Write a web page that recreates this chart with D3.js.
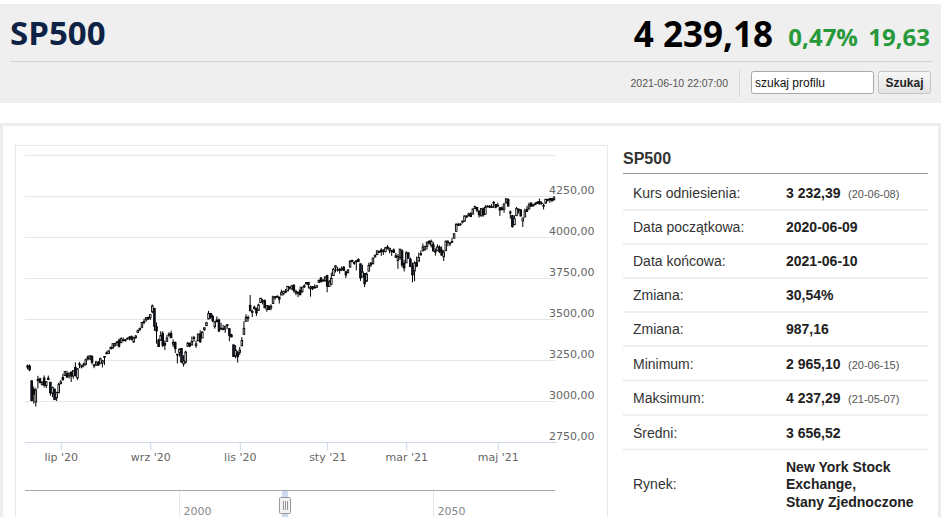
<!DOCTYPE html>
<html>
<head>
<meta charset="utf-8">
<script src="https://d3js.org/d3.v7.min.js"></script>
<style>
  body { margin: 0; background: #fff; overflow: hidden; }
  svg { display: block; }
</style>
</head>
<body>
<svg id="page" width="948" height="517"></svg>
<script>
// trading days, one row per month
var monthKeys = ["2020-06","2020-07","2020-08","2020-09","2020-10","2020-11","2020-12",
                 "2021-01","2021-02","2021-03","2021-04","2021-05","2021-06"];
var monthDays = [
  [9,10,11,12,15,16,17,18,19,22,23,24,25,26,29,30],
  [1,2,6,7,8,9,10,13,14,15,16,17,20,21,22,23,24,27,28,29,30,31],
  [3,4,5,6,7,10,11,12,13,14,17,18,19,20,21,24,25,26,27,28,31],
  [1,2,3,4,8,9,10,11,14,15,16,17,18,21,22,23,24,25,28,29,30],
  [1,2,5,6,7,8,9,12,13,14,15,16,19,20,21,22,23,26,27,28,29,30],
  [2,3,4,5,6,9,10,11,12,13,16,17,18,19,20,23,24,25,27,30],
  [1,2,3,4,7,8,9,10,11,14,15,16,17,18,21,22,23,24,28,29,30,31],
  [4,5,6,7,8,11,12,13,14,15,19,20,21,22,25,26,27,28,29],
  [1,2,3,4,5,8,9,10,11,12,16,17,18,19,22,23,24,25,26],
  [1,2,3,4,5,8,9,10,11,12,15,16,17,18,19,22,23,24,25,26,29,30,31],
  [1,5,6,7,8,9,12,13,14,15,16,19,20,21,22,23,26,27,28,29,30],
  [3,4,5,6,7,10,11,12,13,14,17,18,19,20,21,24,25,26,27,28],
  [1,2,3,4,7,8,9,10]
];

var opens = [
  3213.32,3213.42,3123.53,3071.04,2993.76,3131.00,3136.13,3101.64,3140.29,3094.42,3138.70,3114.40,3046.60,3073.20,3018.59,3050.20,
  3105.92,3143.64,3155.29,3166.44,3153.07,3176.17,3152.47,3205.08,3141.11,3225.98,3208.36,3224.21,3224.29,3268.52,3254.86,3271.64,3218.58,3219.84,3234.27,3227.22,3231.76,3270.45,
  3288.26,3289.92,3317.37,3323.17,3340.05,3356.04,3370.34,3355.46,3372.95,3368.66,3380.86,3387.04,3392.51,3360.48,3386.01,3418.09,3435.95,3449.97,3485.14,3494.69,3509.73,
  3507.44,3543.76,3564.74,3453.60,3371.88,3369.82,3412.56,3352.70,3363.56,3407.73,3411.23,3346.86,3357.38,3285.57,3295.75,3320.11,3226.14,3236.66,3333.90,3350.92,3341.21,
  3385.87,3338.94,3367.27,3408.74,3384.56,3434.28,3459.67,3500.02,3534.01,3515.47,3453.72,3493.50,3493.66,3439.38,3439.91,3438.50,3464.90,3441.42,3403.15,3342.48,3277.17,3293.59,
  3296.20,3336.25,3406.46,3485.74,3508.34,3583.04,3543.26,3563.22,3562.67,3552.57,3600.16,3610.31,3612.09,3559.41,3579.31,3566.82,3594.52,3635.50,3638.55,3634.18,
  3645.87,3653.78,3668.28,3670.94,3694.73,3683.05,3705.98,3659.13,3656.08,3675.27,3666.41,3696.25,3713.65,3722.39,3684.28,3698.08,3693.42,3694.03,3723.03,3750.01,3736.19,3733.27,
  3764.61,3698.02,3712.20,3764.71,3815.05,3803.14,3801.62,3802.23,3814.98,3788.73,3781.88,3816.22,3857.46,3844.24,3851.68,3862.96,3836.83,3755.75,3778.05,
  3731.17,3791.84,3840.27,3836.66,3878.30,3892.59,3910.49,3920.78,3916.40,3911.65,3939.61,3918.50,3915.86,3921.16,3885.55,3857.07,3873.71,3915.80,3839.66,
  3842.51,3903.64,3863.99,3818.53,3793.58,3844.39,3851.93,3891.99,3915.54,3924.52,3942.96,3973.59,3949.57,3953.50,3913.14,3916.48,3937.60,3919.93,3879.34,3917.12,3969.31,3963.34,3967.25,
  3992.78,4034.44,4075.57,4074.29,4089.95,4096.11,4124.71,4130.10,4141.58,4139.76,4174.14,4179.80,4159.18,4128.42,4170.46,4138.78,4185.03,4188.25,4185.14,4206.14,4198.10,
  4191.98,4179.04,4177.06,4169.14,4210.34,4228.29,4150.34,4130.55,4074.99,4129.58,4169.92,4165.94,4098.45,4121.97,4168.61,4170.16,4205.94,4191.59,4201.94,4210.77,
  4216.52,4206.82,4191.43,4206.05,4229.34,4233.81,4232.99,4228.56
];
var highs = [
  3222.71,3223.27,3123.53,3088.42,3079.76,3153.45,3141.16,3120.00,3155.53,3120.92,3154.90,3115.01,3086.25,3073.73,3053.89,3111.51,
  3128.44,3165.81,3182.59,3184.15,3171.80,3179.78,3186.82,3235.32,3200.95,3238.28,3220.39,3233.52,3258.61,3277.29,3279.32,3279.99,3227.26,3241.43,3243.72,3264.74,3250.92,3272.17,
  3302.73,3306.84,3330.77,3351.03,3352.54,3363.29,3381.01,3387.89,3387.24,3378.51,3387.59,3395.06,3399.54,3390.80,3399.96,3432.09,3444.21,3481.07,3501.38,3509.23,3514.77,
  3528.03,3588.11,3564.85,3479.15,3379.97,3424.77,3425.55,3368.95,3402.93,3419.48,3428.92,3375.17,3362.27,3285.57,3320.31,3323.35,3278.70,3306.88,3360.74,3357.92,3393.56,
  3397.18,3369.10,3409.57,3431.56,3426.26,3447.28,3482.34,3549.85,3534.01,3527.94,3489.08,3515.76,3502.42,3476.93,3464.86,3460.53,3466.46,3441.42,3409.51,3342.48,3341.05,3304.93,
  3330.14,3389.49,3486.25,3529.05,3521.58,3645.99,3557.22,3581.16,3569.02,3593.66,3628.51,3623.11,3619.09,3585.22,3581.23,3589.81,3642.31,3635.50,3644.31,3634.18,
  3678.45,3670.96,3682.73,3699.20,3697.41,3708.45,3712.39,3678.49,3665.91,3697.61,3695.29,3711.27,3725.12,3726.70,3702.90,3698.26,3711.24,3703.82,3740.51,3756.12,3744.63,3760.20,
  3769.99,3737.83,3783.04,3811.55,3826.69,3817.86,3810.78,3820.96,3823.60,3788.73,3804.53,3859.75,3861.45,3852.31,3859.23,3870.90,3836.83,3830.50,3778.05,
  3784.32,3843.09,3847.51,3872.42,3894.56,3915.77,3918.35,3931.50,3925.99,3937.23,3950.43,3933.61,3921.98,3930.41,3902.92,3895.98,3928.65,3925.02,3861.08,
  3914.50,3906.41,3874.47,3843.67,3851.69,3881.06,3903.76,3917.35,3960.27,3944.99,3970.08,3981.04,3983.87,3969.62,3930.12,3955.31,3949.13,3942.08,3919.54,3978.19,3981.83,3968.01,3994.41,
  4020.63,4083.42,4086.23,4083.13,4098.19,4129.48,4131.76,4148.00,4151.69,4173.49,4191.31,4180.81,4159.18,4175.02,4179.57,4194.17,4194.19,4193.35,4201.53,4218.78,4198.10,
  4209.39,4179.04,4187.72,4202.70,4238.04,4236.39,4162.04,4134.73,4131.58,4183.13,4171.92,4169.15,4116.93,4172.80,4188.72,4209.52,4213.42,4202.61,4213.38,4218.36,
  4234.12,4217.37,4204.39,4233.45,4232.34,4236.74,4237.09,4249.74
];
var lows = [
  3193.11,3181.49,2999.49,2984.47,2965.66,3076.06,3108.03,3093.51,3083.11,3079.39,3127.12,3032.13,3024.01,3004.63,2999.74,3047.83,
  3101.17,3124.52,3155.29,3142.93,3136.53,3115.70,3136.22,3149.43,3127.66,3200.76,3198.59,3205.65,3215.16,3247.77,3253.10,3222.66,3200.05,3214.25,3216.17,3227.22,3204.13,3220.26,
  3284.53,3286.37,3317.37,3318.14,3328.72,3335.44,3326.44,3355.46,3363.35,3361.64,3379.22,3370.15,3369.66,3354.69,3379.31,3413.13,3425.84,3444.15,3468.35,3484.32,3493.25,
  3494.60,3535.23,3427.41,3349.63,3329.27,3366.84,3329.25,3310.47,3363.56,3389.25,3384.45,3328.82,3292.40,3229.10,3270.95,3232.57,3209.45,3228.44,3332.91,3327.54,3340.47,
  3361.39,3323.69,3367.27,3354.54,3384.56,3428.15,3458.07,3499.61,3500.86,3480.55,3440.89,3480.45,3419.93,3435.65,3433.06,3415.34,3440.45,3364.86,3388.71,3268.89,3259.82,3233.94,
  3279.74,3336.25,3405.17,3485.74,3484.34,3547.48,3511.91,3557.00,3518.58,3552.57,3600.16,3588.68,3567.33,3543.84,3556.85,3552.77,3594.52,3617.76,3629.33,3594.39,
  3645.87,3644.84,3657.17,3670.94,3678.88,3678.83,3660.54,3645.18,3633.40,3645.84,3659.62,3688.57,3710.87,3685.84,3636.48,3676.16,3689.28,3689.32,3723.03,3723.31,3730.21,3726.88,
  3662.71,3695.07,3705.34,3764.71,3783.60,3789.02,3776.51,3791.50,3792.86,3749.62,3780.37,3816.22,3845.05,3830.41,3797.16,3847.78,3732.48,3755.75,3694.12,
  3725.62,3791.84,3816.68,3836.66,3874.93,3892.59,3902.64,3884.94,3890.39,3905.78,3923.85,3900.43,3885.03,3903.07,3874.71,3805.59,3859.60,3814.04,3789.54,
  3842.51,3868.57,3818.86,3723.34,3730.19,3819.25,3851.93,3885.73,3915.54,3915.21,3923.54,3953.44,3935.74,3910.86,3886.75,3914.16,3901.57,3889.07,3853.50,3917.12,3943.25,3944.35,3966.98,
  3992.78,4034.44,4068.14,4068.31,4082.54,4095.51,4114.82,4124.43,4120.87,4139.76,4170.75,4150.47,4118.38,4126.35,4123.69,4138.78,4182.36,4176.22,4181.78,4176.81,4174.85,
  4188.03,4128.59,4160.94,4147.33,4201.64,4188.13,4111.53,4056.88,4074.99,4129.58,4142.69,4125.99,4061.41,4121.97,4151.72,4170.16,4182.52,4184.11,4197.78,4203.57,
  4197.59,4198.27,4167.93,4206.05,4215.66,4208.41,4218.74,4220.34
];
var closes = [
  3207.18,3190.14,3002.10,3041.31,3066.59,3124.74,3113.49,3115.34,3097.74,3117.86,3131.29,3050.33,3083.76,3009.05,3053.24,3100.29,
  3115.86,3130.01,3179.72,3145.32,3169.94,3152.05,3185.04,3155.22,3197.52,3226.56,3215.57,3224.73,3251.84,3257.30,3276.02,3235.66,3215.63,3239.41,3218.44,3258.44,3246.22,3271.12,
  3294.61,3306.51,3327.77,3349.16,3351.28,3360.47,3333.69,3380.35,3373.43,3372.85,3381.99,3389.78,3374.85,3385.51,3397.16,3431.28,3443.62,3478.73,3484.55,3508.01,3500.31,
  3526.65,3580.84,3455.06,3426.96,3331.84,3398.96,3339.19,3340.97,3383.54,3401.20,3385.49,3357.01,3319.47,3281.06,3315.57,3236.92,3246.59,3298.46,3351.60,3335.47,3363.00,
  3380.80,3348.42,3408.60,3360.97,3419.44,3446.83,3477.14,3534.22,3511.93,3488.67,3483.34,3483.81,3426.92,3443.12,3435.56,3453.49,3465.39,3400.97,3390.68,3271.03,3310.11,3269.96,
  3310.24,3369.16,3443.44,3510.45,3509.44,3550.50,3545.53,3572.66,3537.01,3585.15,3626.91,3609.53,3567.79,3581.87,3557.54,3577.59,3635.41,3629.65,3638.35,3621.63,
  3662.45,3669.01,3666.72,3699.12,3691.96,3702.25,3672.82,3668.10,3663.46,3647.49,3694.62,3701.17,3722.48,3709.41,3694.92,3687.26,3690.01,3703.06,3735.36,3727.04,3732.04,3756.07,
  3700.65,3726.86,3748.14,3803.79,3824.68,3799.61,3801.19,3809.84,3795.54,3768.25,3798.91,3851.85,3853.07,3841.47,3855.36,3849.62,3750.77,3787.38,3714.24,
  3773.86,3826.31,3830.17,3871.74,3886.83,3915.59,3911.23,3909.88,3916.38,3934.83,3932.59,3931.33,3913.97,3906.71,3876.50,3881.37,3925.43,3829.34,3811.15,
  3901.82,3870.29,3819.72,3768.47,3841.94,3821.35,3875.44,3898.81,3939.34,3943.34,3968.94,3962.71,3974.12,3915.46,3913.10,3940.59,3910.52,3889.14,3909.52,3974.54,3971.09,3958.55,3972.89,
  4019.87,4077.91,4073.94,4079.95,4097.17,4128.80,4127.99,4141.59,4124.66,4170.42,4185.47,4163.26,4134.94,4173.42,4134.98,4180.17,4187.62,4186.72,4183.18,4211.47,4181.17,
  4192.66,4164.66,4167.59,4201.62,4232.60,4188.43,4152.10,4063.04,4112.50,4173.85,4163.29,4127.83,4115.68,4159.12,4155.86,4197.05,4188.13,4195.99,4200.88,4204.11,
  4202.04,4208.12,4192.85,4229.89,4226.52,4227.26,4219.55,4239.18
];

// axis ticks
var yTicks = [2750, 3000, 3250, 3500, 3750, 4000, 4250, 4500];
var xTickDates = ["2020-07-01","2020-09-01","2020-11-02","2021-01-04","2021-03-01","2021-05-03"];
var xTickLabels = ["lip '20","wrz '20","lis '20","sty '21","mar '21","maj '21"];
var navTicks = [2000, 2050];

// header + info table
var quote = {name: "SP500", last: "4 239,18", pct: "0,47%", chg: "19,63", time: "2021-06-10 22:07:00"};
var rowLabels = ["Kurs odniesienia:","Data początkowa:","Data końcowa:","Zmiana:","Zmiana:","Minimum:","Maksimum:","Średni:","Rynek:"];
var rowValues = ["3 232,39","2020-06-09","2021-06-10","30,54%","987,16","2 965,10","4 237,29","3 656,52","New York Stock|Exchange,|Stany Zjednoczone"];
var rowNotes = ["(20-06-08)","","","","","(20-06-15)","(21-05-07)","",""];

var svg = d3.select("#page");
var SANS = "'Liberation Sans', Arial, sans-serif";
var HEAD = "'Open Sans', 'Noto Sans', sans-serif";
var AXIS = "'DejaVu Sans', Verdana, sans-serif";

/* Header bar */
svg.append("rect").attr("x",0).attr("y",4).attr("width",941).attr("height",99).attr("fill","#efefef");
svg.append("text").attr("x",10).attr("y",45).text(quote.name)
  .attr("font-family",HEAD).attr("font-weight",700).attr("font-size",33).attr("fill","#0d2244");
svg.append("text").attr("x",930).attr("y",46).attr("text-anchor","end").text(quote.chg)
  .attr("font-family",HEAD).attr("font-weight",700).attr("font-size",24).attr("fill","#27993a");
svg.append("text").attr("x",858).attr("y",46).attr("text-anchor","end").text(quote.pct)
  .attr("font-family",HEAD).attr("font-weight",700).attr("font-size",24).attr("fill","#27993a");
svg.append("text").attr("x",773).attr("y",46.5).attr("text-anchor","end").text(quote.last)
  .attr("font-family",HEAD).attr("font-weight",700).attr("font-size",35).attr("fill","#000");
svg.append("line").attr("x1",10).attr("x2",933).attr("y1",61.5).attr("y2",61.5).attr("stroke","#d4d4d4");
svg.append("text").attr("x",728).attr("y",87).attr("text-anchor","end").text(quote.time)
  .attr("font-family",SANS).attr("font-size",10.5).attr("fill","#555");
svg.append("line").attr("x1",739.5).attr("x2",739.5).attr("y1",70).attr("y2",97).attr("stroke","#d8d8d8");
// search box
svg.append("rect").attr("x",751.5).attr("y",71.5).attr("width",122).attr("height",22).attr("rx",2)
  .attr("fill","#fff").attr("stroke","#a8a8a8");
svg.append("text").attr("x",755).attr("y",87).text("szukaj profilu")
  .attr("font-family",SANS).attr("font-size",12).attr("fill","#111");
var grad = svg.append("defs").append("linearGradient").attr("id","btn").attr("x1",0).attr("x2",0).attr("y1",0).attr("y2",1);
grad.append("stop").attr("offset","0").attr("stop-color","#f7f7f7");
grad.append("stop").attr("offset","1").attr("stop-color","#e3e3e3");
svg.append("rect").attr("x",878.5).attr("y",71.5).attr("width",52).attr("height",22).attr("rx",2)
  .attr("fill","url(#btn)").attr("stroke","#c4c4c4");
svg.append("text").attr("x",904.5).attr("y",87).attr("text-anchor","middle").text("Szukaj")
  .attr("font-family",SANS).attr("font-weight",700).attr("font-size",12).attr("fill","#222");

/* Content boxes */
svg.append("rect").attr("x",1.5).attr("y",124.5).attr("width",938).attr("height",420)
  .attr("fill","#fff").attr("stroke","#ededed").attr("stroke-width",3);
svg.append("rect").attr("x",15.5).attr("y",145.5).attr("width",592).attr("height",400)
  .attr("fill","#fff").attr("stroke","#e8e8e8");

/* Candlestick chart */
var dates = [];
monthKeys.forEach(function(m, i){
  monthDays[i].forEach(function(d){ dates.push(m + "-" + (d < 10 ? "0" : "") + d); });
});
var candles = dates.map(function(d, i){
  return {date: d, o: opens[i], h: highs[i], l: lows[i], c: closes[i]};
});

var x = d3.scalePoint().domain(dates).range([27.5, 554]);
var y = d3.scaleLinear().domain([2750, 4500]).range([442, 155]);
var fmt = d3.formatLocale({decimal: ",", thousands: " ", grouping: [3], currency: ["", ""]}).format(".2f");

svg.append("g").selectAll("line").data(yTicks).enter().append("line")
  .attr("x1",25).attr("x2",555)
  .attr("y1",function(d){ return Math.round(y(d)) + 0.5; })
  .attr("y2",function(d){ return Math.round(y(d)) + 0.5; })
  .attr("stroke","#e6e6e6");

var bw = x.step() * 0.75;
var cg = svg.append("g").selectAll("g").data(candles).enter().append("g");
cg.append("line")
  .attr("x1",function(d){ return x(d.date); })
  .attr("x2",function(d){ return x(d.date); })
  .attr("y1",function(d){ return y(d.h); })
  .attr("y2",function(d){ return y(d.l); })
  .attr("stroke","#000").attr("stroke-width",1);
cg.append("rect")
  .attr("x",function(d){ return x(d.date) - bw / 2; })
  .attr("width",bw)
  .attr("y",function(d){ return y(Math.max(d.o, d.c)); })
  .attr("height",function(d){ return Math.max(0.8, Math.abs(y(d.o) - y(d.c))); })
  .attr("fill",function(d){ return d.c >= d.o ? "#fff" : "#0f1c36"; })
  .attr("stroke","#000").attr("stroke-width",0.9);

svg.append("g").selectAll("text").data(yTicks.slice(0, -1)).enter().append("text")
  .attr("x",549).attr("y",function(d){ return y(d) - 2.5; })
  .text(function(d){ return fmt(d); })
  .attr("font-family",AXIS).attr("font-size",11).attr("fill","#666");

// x axis
var xAxis = d3.axisBottom(x).tickValues(xTickDates)
  .tickFormat(function(d, i){ return xTickLabels[i]; })
  .tickSize(8).tickSizeOuter(0);
var xg = svg.append("g").attr("transform","translate(0,442.5)").call(xAxis);
xg.select(".domain").remove();
xg.selectAll(".tick line").attr("stroke","#ccd6eb");
xg.selectAll(".tick text").attr("font-family",AXIS).attr("font-size",11).attr("fill","#666");
svg.append("line").attr("x1",25).attr("x2",557).attr("y1",442.5).attr("y2",442.5).attr("stroke","#ccd6eb");

/* Navigator strip */
var navX = d3.scaleLinear().domain([2000, 2050]).range([179.5, 433.5]);
svg.append("g").selectAll("line").data(navTicks).enter().append("line")
  .attr("x1",function(d){ return navX(d); }).attr("x2",function(d){ return navX(d); })
  .attr("y1",491).attr("y2",517).attr("stroke","#e6e6e6");
svg.append("g").selectAll("text").data(navTicks).enter().append("text")
  .attr("x",function(d){ return navX(d) + 4; }).attr("y",515)
  .text(function(d){ return d; })
  .attr("font-family",AXIS).attr("font-size",11).attr("fill","#888");
svg.append("rect").attr("x",282).attr("y",491).attr("width",6).attr("height",26).attr("fill","#cbdbed");
svg.append("line").attr("x1",25).attr("x2",555).attr("y1",490.5).attr("y2",490.5).attr("stroke","#a6a6a6");
svg.append("rect").attr("x",279.5).attr("y",497.5).attr("width",11).attr("height",16).attr("rx",1)
  .attr("fill","#f2f2f2").attr("stroke","#999");
[283.5, 285.5, 287.5].forEach(function(lx){
  svg.append("line").attr("x1",lx).attr("x2",lx).attr("y1",501).attr("y2",510).attr("stroke","#999");
});

/* Info panel */
svg.append("text").attr("x",623).attr("y",164).text(quote.name)
  .attr("font-family",SANS).attr("font-weight",700).attr("font-size",16).attr("fill","#333");
svg.append("line").attr("x1",623).attr("x2",928).attr("y1",173.5).attr("y2",173.5).attr("stroke","#999");
var sepY = [210, 244, 278, 312, 346, 380.5, 415, 449.5];
svg.append("g").selectAll("line").data(sepY).enter().append("line")
  .attr("x1",623).attr("x2",928).attr("y1",function(d){ return d; }).attr("y2",function(d){ return d; })
  .attr("stroke","#efefef").attr("stroke-width",2);
var baseY = [197.5, 232, 266, 300, 334, 368.5, 403, 437.5, 488.5];
rowLabels.forEach(function(lab, i){
  svg.append("text").attr("x",633).attr("y",baseY[i]).text(lab)
    .attr("font-family",SANS).attr("font-size",14).attr("fill","#333");
  var lines = rowValues[i].split("|");
  var v = svg.append("text").attr("font-family",SANS).attr("font-weight",700)
    .attr("font-size",14).attr("fill","#222");
  if (lines.length == 1) {
    v.attr("x",786).attr("y",baseY[i]).text(lines[0]);
  } else {
    lines.forEach(function(t, k){
      v.append("tspan").attr("x",786).attr("y",471.5 + k * 17.5).text(t);
    });
  }
  if (rowNotes[i]) {
    svg.append("text").attr("x",848).attr("y",baseY[i]).text(rowNotes[i])
      .attr("font-family",SANS).attr("font-size",11).attr("fill","#555");
  }
});
</script>
</body>
</html>
